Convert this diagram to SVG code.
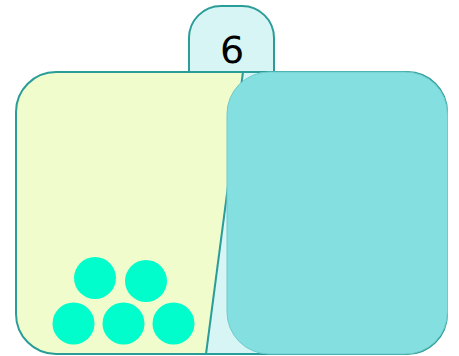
<svg xmlns="http://www.w3.org/2000/svg" width="459" height="356" viewBox="0 0 459 356">
<style>
.edge{stroke:#2a9d99;stroke-width:2;fill:none}
.dot{fill:#00fdcb}
</style>
<defs>
<clipPath id="boxclip"><rect x="16" y="72" width="431" height="282" rx="40" ry="40"/></clipPath>
</defs>
<rect width="459" height="356" fill="#ffffff"/>
<g id="tab">
<path d="M189,72 V38 A32,32 0 0 1 221,6 H242 A32,32 0 0 1 274,38 V72 Z" fill="#d8f5f5" stroke="#2a9d99" stroke-width="2"/>
<text x="232" y="62.5" font-family="DejaVu Sans, sans-serif" font-size="38" text-anchor="middle" fill="#000">6</text>
</g>
<g id="box">
<rect x="16" y="72" width="431" height="282" rx="40" ry="40" fill="#d8f5f5"/>
<g clip-path="url(#boxclip)">
<polygon points="0,60 243,60 205,360 0,360" fill="#f0fccc"/>
</g>
<line x1="243" y1="72" x2="206" y2="354" class="edge"/>
<rect x="16" y="72" width="431" height="282" rx="40" ry="40" class="edge"/>
</g>
<g id="right-panel">
<rect x="227" y="72" width="220.5" height="282" rx="42" ry="42" fill="#84e0e0" stroke="#6fcaca" stroke-width="1"/>
</g>
<g id="dots">
<circle class="dot" cx="95" cy="278" r="21"/>
<circle class="dot" cx="146" cy="281" r="21"/>
<circle class="dot" cx="73.5" cy="323.5" r="21"/>
<circle class="dot" cx="123.5" cy="323.5" r="21"/>
<circle class="dot" cx="173.5" cy="323.5" r="21"/>
</g>
</svg>
